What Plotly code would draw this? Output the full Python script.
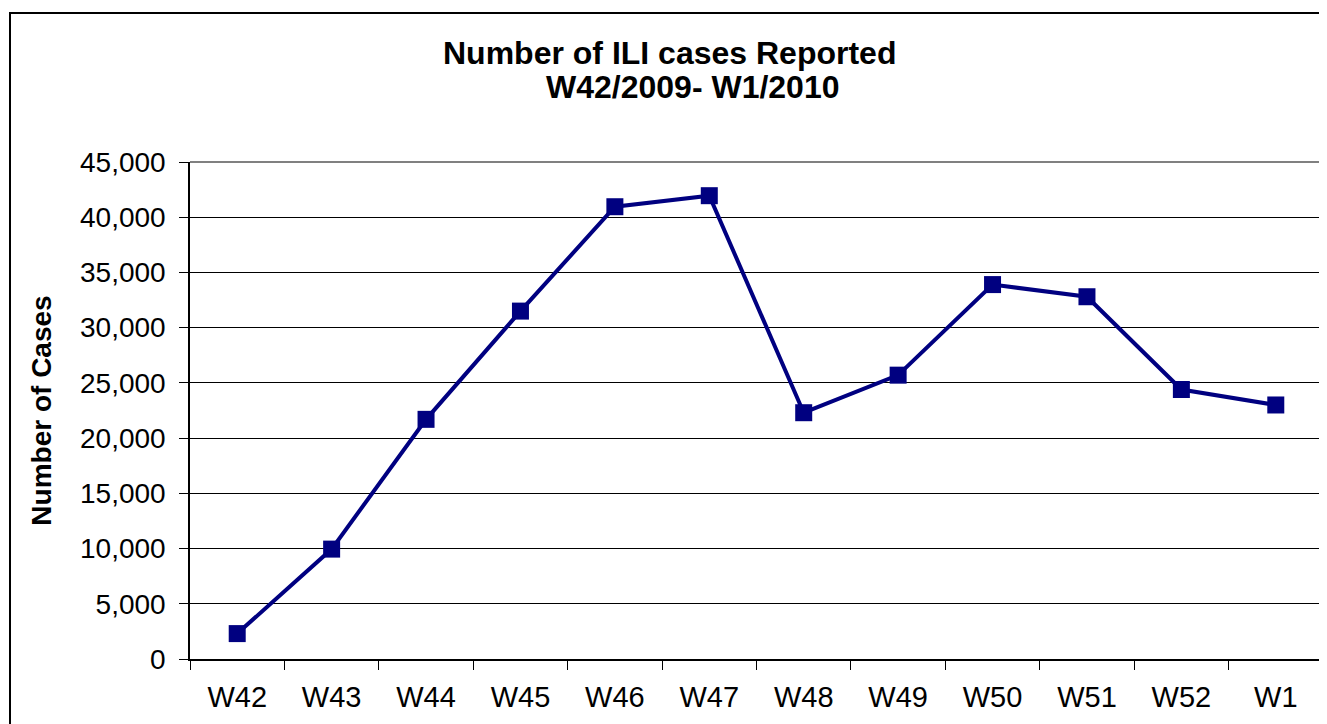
import plotly.graph_objects as go

weeks = ["W42", "W43", "W44", "W45", "W46", "W47", "W48", "W49", "W50", "W51", "W52", "W1"]
cases = [2300, 9950, 21700, 31500, 40950, 41950, 22300, 25700, 33900, 32800, 24400, 23000]
y_ticks = [0, 5000, 10000, 15000, 20000, 25000, 30000, 35000, 40000, 45000]
y_tick_labels = ["0", "5,000", "10,000", "15,000", "20,000", "25,000", "30,000", "35,000", "40,000", "45,000"]

OFF = 8  # default body margin of the page
W, H = 1327 - OFF, 724 - OFF
# target plot area in page pixels: x 190..1323, y 162..659
L, R, T, B = 190 - OFF, (OFF + W) - 1323, 162 - OFF, (OFF + H) - 659
pw, ph = W - L - R, H - T - B

def px(x):
    return (x - OFF - L) / pw

def py(y):
    return (H - B - (y - OFF)) / ph

FONT = "Liberation Sans, Arial, sans-serif"

fig = go.Figure()
fig.add_trace(go.Scatter(
    x=weeks, y=cases, mode="lines+markers",
    line=dict(color="#000080", width=4),
    marker=dict(symbol="square", size=17, color="#000080"),
    showlegend=False, hoverinfo="x+y",
))

fig.update_layout(
    width=W, height=H,
    margin=dict(l=L, r=R, t=T, b=B),
    paper_bgcolor="white", plot_bgcolor="white",
    font=dict(family=FONT, color="black", size=28),
    xaxis=dict(
        type="category", tickson="boundaries", ticks="outside", ticklen=9,
        tickcolor="black", tickwidth=1, showline=True, linecolor="black", linewidth=1.5,
        showgrid=False, tickfont=dict(size=29), ticklabelstandoff=11,
        range=[-0.5, len(weeks) - 0.5],
    ),
    yaxis=dict(
        range=[0, 45000], tickvals=y_ticks, ticktext=y_tick_labels,
        ticks="outside", ticklen=9, tickcolor="black", tickwidth=1,
        showline=True, linecolor="black", linewidth=1.5,
        showgrid=True, gridcolor="black", gridwidth=1,
        zeroline=False, tickfont=dict(size=28), ticklabelstandoff=8,
        title=dict(text="<b>Number of Cases</b>", font=dict(size=28), standoff=20),
    ),
    annotations=[
        dict(text="<b>Number of ILI cases Reported</b>", xref="paper", yref="paper",
             x=px(669), y=py(53), xanchor="center", yanchor="middle", showarrow=False,
             font=dict(size=32, family=FONT)),
        dict(text="<b>W42/2009- W1/2010</b>", xref="paper", yref="paper",
             x=px(693), y=py(87), xanchor="center", yanchor="middle", showarrow=False,
             font=dict(size=32, family=FONT)),
    ],
    shapes=[
        dict(type="rect", xref="paper", yref="paper", x0=px(10), y0=py(760), x1=px(1360), y1=py(13),
             line=dict(color="black", width=2), layer="below"),
        dict(type="line", xref="paper", yref="paper", x0=0, x1=1, y0=1, y1=1,
             line=dict(color="#808080", width=2), layer="above"),
        dict(type="line", xref="paper", yref="paper", x0=1, x1=1, y0=0, y1=1,
             line=dict(color="#808080", width=2), layer="above"),
    ],
)

fig.write_html("out.html")
